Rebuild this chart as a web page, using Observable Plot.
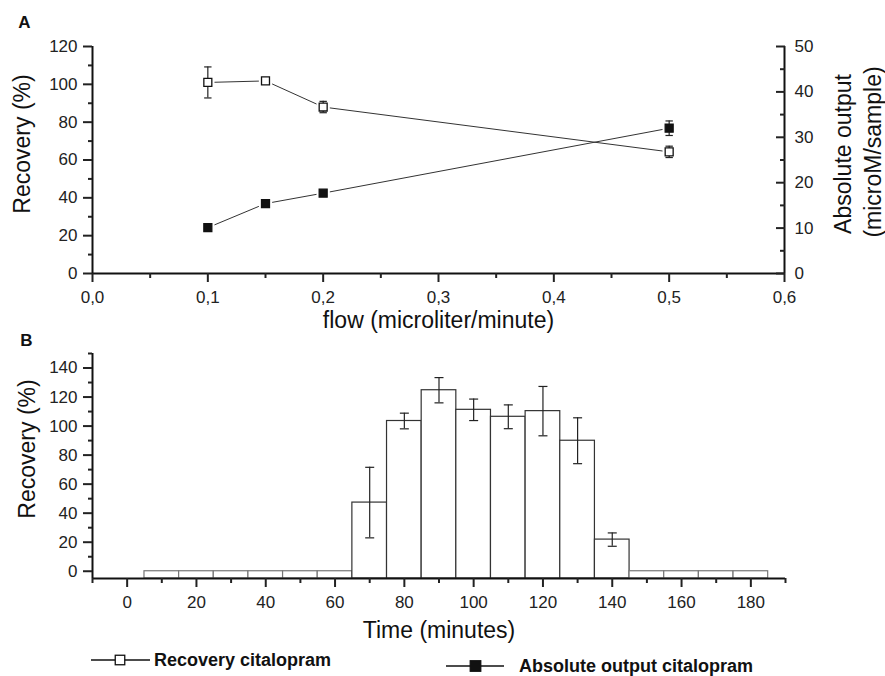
<!DOCTYPE html>
<html>
<head>
<meta charset="utf-8">
<script src="https://cdn.jsdelivr.net/npm/d3@7"></script>
<script src="https://cdn.jsdelivr.net/npm/@observablehq/plot@0.6"></script>
<style>
  body { margin: 0; background: #fff; }
  #wrap { position: relative; width: 885px; height: 676px; overflow: hidden; background: #fff; }
  #wrap > svg { display: block; }
  .leg { position: absolute; height: 20px; display: flex; align-items: center; font-family: "Liberation Sans", Arial, sans-serif; font-weight: bold; font-size: 18px; color: #111; white-space: nowrap; }
  .leg svg { display: block; }
</style>
</head>
<body>
<div id="wrap"></div>
<script>
// ---------- Panel A data ----------
const flowRates = [0.1, 0.15, 0.2, 0.5];
const recoveryFlow = [101, 101.8, 88, 64.3];
const recoveryFlowErr = [8.2, 0.8, 3, 3];
const absoluteOutput = [10.1, 15.4, 17.7, 32];
const absoluteOutputErr = [0.3, 0.3, 0.4, 1.6];
const flowTicks = [0, 0.1, 0.2, 0.3, 0.4, 0.5, 0.6];
const flowMinorTicks = [0.05, 0.15, 0.25, 0.35, 0.45, 0.55];
const recoveryTicksA = [0, 20, 40, 60, 80, 100, 120];
const recoveryMinorA = [10, 30, 50, 70, 90, 110];
const outputTicks = [0, 10, 20, 30, 40, 50];
const outputMinor = [5, 15, 25, 35, 45];

// ---------- Panel B data ----------
const times = [10, 20, 30, 40, 50, 60, 70, 80, 90, 100, 110, 120, 130, 140, 150, 160, 170, 180];
const recoveryTime = [0, 0, 0, 0, 0, 0, 47.3, 103.5, 124.7, 111.2, 106.4, 110.3, 89.9, 21.8, 0, 0, 0, 0];
const recoveryTimeErr = [0, 0, 0, 0, 0, 0, 24.3, 5.4, 8.7, 7.4, 8.2, 17, 15.8, 4.6, 0, 0, 0, 0];
const timeTicks = [0, 20, 40, 60, 80, 100, 120, 140, 160, 180];
const timeMinor = [-10, 10, 30, 50, 70, 90, 110, 130, 150, 170, 190];
const recoveryTicksB = [0, 20, 40, 60, 80, 100, 120, 140];
const recoveryMinorB = [10, 30, 50, 70, 90, 110, 130, 150];

const legendLabels = ["Recovery citalopram", "Absolute output citalopram"];

const FONT = '"Liberation Sans", Arial, sans-serif';
const K = 120 / 50; // right axis (0-50) mapped onto left axis (0-120)

const rowsA = flowRates.map((f, i) => ({
  flow: f,
  rec: recoveryFlow[i], recErr: recoveryFlowErr[i],
  abs: absoluteOutput[i] * K, absErr: absoluteOutputErr[i] * K
}));
const errA = rowsA.flatMap(d => [
  {x: d.flow, lo: d.rec - d.recErr, hi: d.rec + d.recErr},
  {x: d.flow, lo: d.abs - d.absErr, hi: d.abs + d.absErr}
]);
const capsA = errA.flatMap(e => [{x: e.x, y: e.lo}, {x: e.x, y: e.hi}]);
const fmtComma = d => d.toFixed(1).replace(".", ",");
const T = {textAnchor: "middle", lineAnchor: "middle", fill: "#111"};

const plotA = Plot.plot({
  width: 885, height: 335,
  marginTop: 46, marginBottom: 62, marginLeft: 92, marginRight: 101,
  style: {fontFamily: FONT, fontSize: "17px", color: "#222", background: "#fff", overflow: "visible"},
  x: {domain: [0, 0.6]},
  y: {domain: [0, 120]},
  marks: [
    Plot.line(rowsA, {x: "flow", y: "rec", stroke: "#333", strokeWidth: 1}),
    Plot.line(rowsA, {x: "flow", y: "abs", stroke: "#333", strokeWidth: 1}),
    Plot.dot(rowsA, {x: "flow", y: "rec", symbol: "square", r: 7.5, fill: "white", stroke: "none"}),
    Plot.dot(rowsA, {x: "flow", y: "abs", symbol: "square", r: 7.5, fill: "white", stroke: "none"}),
    Plot.ruleX(errA, {x: "x", y1: "lo", y2: "hi", stroke: "#222", strokeWidth: 1.2}),
    Plot.link(capsA, {x1: d => d.x - 0.0032, x2: d => d.x + 0.0032, y1: "y", y2: "y", stroke: "#222", strokeWidth: 1.2}),
    Plot.dot(rowsA, {x: "flow", y: "rec", symbol: "square", r: 4.5, fill: "white", stroke: "#111", strokeWidth: 1.3}),
    Plot.dot(rowsA, {x: "flow", y: "abs", symbol: "square", r: 4.5, fill: "#111", stroke: "#111", strokeWidth: 1.3}),
    // axes lines
    Plot.ruleY([0], {stroke: "#111", strokeWidth: 2}),
    Plot.ruleX([0, 0.6], {stroke: "#111", strokeWidth: 2}),
    // left axis
    Plot.axisY({ticks: recoveryTicksA, anchor: "left", tickSize: 9, tickPadding: 6, strokeWidth: 2, label: null, tickFormat: d => String(d)}),
    Plot.axisY({ticks: recoveryMinorA, anchor: "left", tickSize: 4, strokeWidth: 2, label: null, tickFormat: () => ""}),
    // right axis (ticks inward)
    Plot.axisY({ticks: outputTicks.map(v => v * K), anchor: "right", tickSize: 9, dx: -9, strokeWidth: 2, label: null, tickFormat: () => ""}),
    Plot.axisY({ticks: outputMinor.map(v => v * K), anchor: "right", tickSize: 5, dx: -5, strokeWidth: 2, label: null, tickFormat: () => ""}),
    Plot.axisY({ticks: outputTicks.map(v => v * K), anchor: "right", tickSize: 0, tickPadding: 10, label: null, tickFormat: d => String(Math.round(d / K))}),
    // bottom axis
    Plot.axisX({ticks: flowTicks, anchor: "bottom", tickSize: 9, tickPadding: 8, strokeWidth: 2, label: null, tickFormat: fmtComma}),
    Plot.axisX({ticks: flowMinorTicks, anchor: "bottom", tickSize: 5, strokeWidth: 2, label: null, tickFormat: () => ""}),
    // titles
    Plot.text(["A"], {...T, text: d => d, frameAnchor: "top-left", dx: -68, dy: -24, fontWeight: "bold", fontSize: 17}),
    Plot.text(["Recovery (%)"], {...T, text: d => d, frameAnchor: "left", dx: -70, dy: -16, rotate: -90, fontSize: 23}),
    Plot.text(["flow (microliter/minute)"], {...T, text: d => d, frameAnchor: "bottom", dy: 47, fontSize: 23}),
    Plot.text(["Absolute output"], {...T, text: d => d, frameAnchor: "right", dx: 59, dy: -6, rotate: -90, fontSize: 23}),
    Plot.text(["(microM/sample)"], {...T, text: d => d, frameAnchor: "right", dx: 89, dy: -8, rotate: -90, fontSize: 23})
  ]
});

// ---------- Panel B ----------
const rowsB = times.map((t, i) => ({t, rec: recoveryTime[i], err: recoveryTimeErr[i]}));
const errB = rowsB.filter(d => d.err > 0);
const capsB = errB.flatMap(d => [{x: d.t, y: d.rec - d.err}, {x: d.t, y: d.rec + d.err}]);

const plotB = Plot.plot({
  width: 885, height: 315,
  marginTop: 18, marginBottom: 72, marginLeft: 92, marginRight: 100,
  style: {fontFamily: FONT, fontSize: "17px", color: "#222", background: "#fff", overflow: "visible"},
  x: {domain: [-10, 190]},
  y: {domain: [-5, 150]},
  marks: [
    Plot.rect(rowsB, {x1: d => d.t - 5, x2: d => d.t + 5, y1: -5, y2: "rec", fill: "white",
      stroke: d => d.rec > 0 ? "#333" : "#777", strokeWidth: 1.2}),
    Plot.ruleX(errB, {x: "t", y1: d => d.rec - d.err, y2: d => d.rec + d.err, stroke: "#222", strokeWidth: 1.2}),
    Plot.link(capsB, {x1: d => d.x - 1.3, x2: d => d.x + 1.3, y1: "y", y2: "y", stroke: "#222", strokeWidth: 1.2}),
    Plot.ruleY([-5], {stroke: "#111", strokeWidth: 2}),
    Plot.ruleX([-10], {stroke: "#111", strokeWidth: 2}),
    Plot.axisY({ticks: recoveryTicksB, anchor: "left", tickSize: 9, tickPadding: 6, strokeWidth: 2, label: null, tickFormat: d => String(d)}),
    Plot.axisY({ticks: recoveryMinorB, anchor: "left", tickSize: 4, strokeWidth: 2, label: null, tickFormat: () => ""}),
    Plot.axisX({ticks: timeTicks, anchor: "bottom", tickSize: 9, tickPadding: 8, strokeWidth: 2, label: null, tickFormat: d => String(d)}),
    Plot.axisX({ticks: timeMinor, anchor: "bottom", tickSize: 5, strokeWidth: 2, label: null, tickFormat: () => ""}),
    Plot.text(["B"], {...T, text: d => d, frameAnchor: "top-left", dx: -66, dy: -13, fontWeight: "bold", fontSize: 17}),
    Plot.text(["Recovery (%)"], {...T, text: d => d, frameAnchor: "left", dx: -65, dy: -17, rotate: -90, fontSize: 23}),
    Plot.text(["Time (minutes)"], {...T, text: d => d, frameAnchor: "bottom", dy: 52, fontSize: 23})
  ]
});

const wrap = document.getElementById("wrap");
wrap.appendChild(plotA);
wrap.appendChild(plotB);

// ---------- Legend ----------
const legendItems = [
  {label: legendLabels[0], fill: "white", x0: 91, xText: 154, lineEnd: 59, sqC: 29, sq: 9.5, y: 660},
  {label: legendLabels[1], fill: "#111", x0: 446, xText: 519, lineEnd: 58, sqC: 29.5, sq: 10.5, y: 666}
];
for (const it of legendItems) {
  const div = document.createElement("div");
  div.className = "leg";
  div.style.left = it.x0 + "px";
  div.style.top = (it.y - 10) + "px";
  const w = it.xText - it.x0;
  div.innerHTML = `<svg width="${w}" height="20"><line x1="0" x2="${it.lineEnd}" y1="10" y2="10" stroke="#111" stroke-width="1.4"/>` +
    `<rect x="${it.sqC - it.sq / 2}" y="${10 - it.sq / 2}" width="${it.sq}" height="${it.sq}" fill="${it.fill}" stroke="#111" stroke-width="1.3"/></svg>` +
    `<span>${it.label}</span>`;
  wrap.appendChild(div);
}
</script>
</body>
</html>
